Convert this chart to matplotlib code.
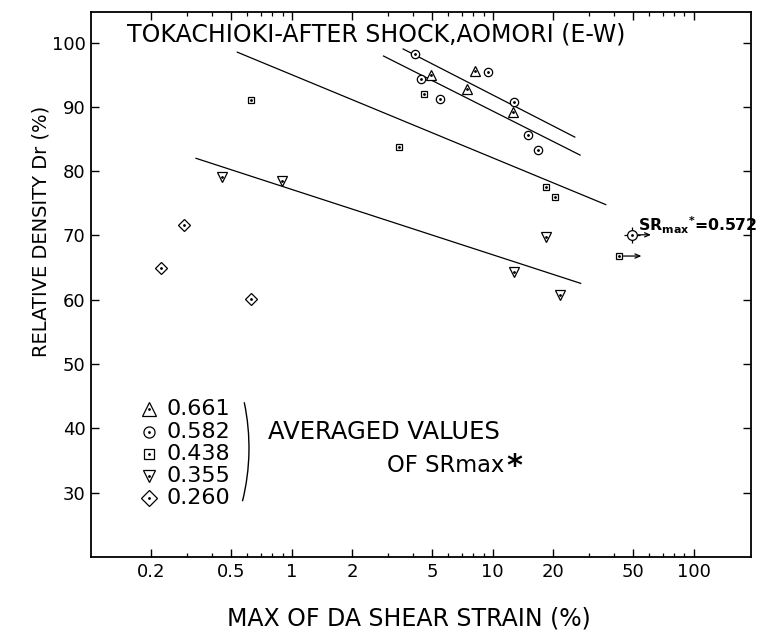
"""Dr vs max DA shear strain, Tokachioki after-shock (Aomori, E-W)."""
import matplotlib
matplotlib.use("Agg")
import matplotlib.pyplot as plt  # noqa: E402
from matplotlib.patches import Arc  # noqa: E402
from matplotlib.ticker import FixedLocator, FixedFormatter, NullFormatter  # noqa: E402

# ---------------------------------------------------------------- data
# one series per averaged SRmax* group
TRI_UP_X = [4.94, 8.12, 7.46, 12.65]          # 0.661
TRI_UP_Y = [95.0, 95.6, 92.7, 89.2]
CIRCLE_X = [4.09, 9.50, 4.40, 5.45, 12.7, 15.0, 16.8]   # 0.582
CIRCLE_Y = [98.2, 95.4, 94.3, 91.2, 90.8, 85.6, 83.3]
SQUARE_X = [0.624, 4.57, 3.40, 18.5, 20.3]    # 0.438
SQUARE_Y = [91.1, 92.0, 83.8, 77.5, 76.0]
TRI_DN_X = [0.448, 0.89, 18.5, 12.8, 21.6]    # 0.355
TRI_DN_Y = [79.1, 78.4, 69.8, 64.3, 60.7]
DIAMOND_X = [0.222, 0.290, 0.629]             # 0.260
DIAMOND_Y = [65.0, 71.6, 60.05]

# points beyond the measured range (drawn with an arrow)
OVER_CIRCLE = (49.1, 70.1)    # SRmax* = 0.572
OVER_SQUARE = (42.6, 66.8)
OVER_LABEL = "0.572"

# fitted lines, endpoints, top to bottom
FIT_X0 = [3.58, 2.86, 0.535, 0.333]
FIT_Y0 = [99.0, 97.9, 98.5, 82.0]
FIT_X1 = [25.6, 27.2, 36.5, 27.4]
FIT_Y1 = [85.3, 82.5, 74.8, 62.55]

SR_LEGEND = ["0.661", "0.582", "0.438", "0.355", "0.260"]
X_TICKS = [0.2, 0.5, 1, 2, 5, 10, 20, 50, 100]
X_TICKLABELS = ["0.2", "0.5", "1", "2", "5", "10", "20", "50", "100"]
Y_TICKS = [30, 40, 50, 60, 70, 80, 90, 100]

# ---------------------------------------------------------------- styling
plt.rcParams["font.family"] = ["DejaVu Sans"]
INK = "black"
MARK = dict(ls="none", mfc="white", mec=INK, mew=0.9)
SERIES = [  # (x, y, marker, ms, legend ms)
    (TRI_UP_X, TRI_UP_Y, "^", 7.0, 9.5),
    (CIRCLE_X, CIRCLE_Y, "o", 6.0, 8.0),
    (SQUARE_X, SQUARE_Y, "s", 5.0, 7.0),
    (TRI_DN_X, TRI_DN_Y, "v", 7.5, 9.0),
    (DIAMOND_X, DIAMOND_Y, "D", 6.0, 8.0),
]

fig = plt.figure(figsize=(7.57, 6.31), dpi=100)
ax = fig.add_axes([0.1202, 0.1173, 0.8719, 0.8642])
ax.set_xscale("log")
ax.set_xlim(0.1, 193)
ax.set_ylim(20, 104.8)

for x0, y0, x1, y1 in zip(FIT_X0, FIT_Y0, FIT_X1, FIT_Y1):
    ax.plot([x0, x1], [y0, y1], color=INK, lw=0.9, zorder=2)

for xs, ys, m, ms, _ in SERIES:
    ax.plot(xs, ys, marker=m, ms=ms, zorder=3, **MARK)
    ax.plot(xs, ys, ls="none", marker=".", ms=2, color=INK, zorder=4)

# over-range points with arrows
cx, cy = OVER_CIRCLE
ax.plot([cx], [cy], ls="none", marker="+", ms=12, mew=0.9, color=INK, zorder=3)
ax.plot([cx], [cy], marker="o", ms=7, zorder=4, **MARK)
ax.plot([cx], [cy], ls="none", marker=".", ms=2, color=INK, zorder=5)
ax.annotate("", xy=(cx, cy), xytext=(14, 0), textcoords="offset points",
            arrowprops=dict(arrowstyle="<-, head_length=0.35, head_width=0.15",
                            lw=0.9, color=INK, shrinkA=0, shrinkB=5))
sx, sy = OVER_SQUARE
ax.plot([sx], [sy], marker="s", ms=5, zorder=3, **MARK)
ax.plot([sx], [sy], ls="none", marker=".", ms=2, color=INK, zorder=4)
ax.annotate("", xy=(sx, sy), xytext=(16, 0), textcoords="offset points",
            arrowprops=dict(arrowstyle="<-, head_length=0.35, head_width=0.15",
                            lw=0.9, color=INK, shrinkA=0, shrinkB=3))
ax.text(0.8288, 0.598, r"$\mathbf{SR}_{\mathbf{max}}{}^{\mathbf{*}}$=" + OVER_LABEL,
        transform=ax.transAxes, fontsize=11.3, fontweight="bold", va="baseline",
        ha="left", zorder=6)

# axes, ticks
for s in ax.spines.values():
    s.set_linewidth(1.3)
ax.xaxis.set_major_locator(FixedLocator(X_TICKS))
ax.xaxis.set_major_formatter(FixedFormatter(X_TICKLABELS))
ax.xaxis.set_minor_locator(FixedLocator(
    [m * 10.0 ** k for k in (-1, 0, 1) for m in (3, 4, 6, 7, 8, 9)]))
ax.xaxis.set_minor_formatter(NullFormatter())
ax.yaxis.set_major_locator(FixedLocator(Y_TICKS))
ax.tick_params(which="major", direction="in", length=6, width=1.0, top=True, right=True,
               labelsize=13, pad=4)
ax.tick_params(which="minor", direction="in", length=3, width=0.9, top=True, right=True)

ax.text(0.0541, 0.945, "TOKACHIOKI-AFTER SHOCK,AOMORI (E-W)", transform=ax.transAxes,
        fontsize=17, va="baseline", ha="left")
fig.text(0.5396, 0.0206, "MAX OF DA SHEAR STRAIN (%)", fontsize=17, ha="center", va="center")
fig.text(0.0542, 0.6331, "RELATIVE DENSITY Dr (%)", fontsize=14, rotation=90,
         ha="center", va="center")

# hand-drawn style legend
row0, step = 0.2709, 0.0408
for i, ((_, _, m, _, lms), lab) in enumerate(zip(SERIES, SR_LEGEND)):
    yy = row0 - i * step
    ax.plot([0.0883], [yy], marker=m, ms=lms, transform=ax.transAxes, clip_on=False, **MARK)
    ax.plot([0.0883], [yy], marker=".", ms=2, color=INK, transform=ax.transAxes)
    ax.text(0.1147, yy, lab, transform=ax.transAxes, fontsize=16, va="center", ha="left")
ax.add_patch(Arc((-0.0964, 0.2), 2 * 221.6 / 660, 2 * 221.6 / 545.3, theta1=-16.7,
                 theta2=14.3, transform=ax.transAxes, color=INK, lw=1.0))
ax.text(0.2686, 0.2283, "AVERAGED VALUES", transform=ax.transAxes, fontsize=17.5,
        va="center", ha="left")
ax.text(0.449, 0.1678, "OF SRmax", transform=ax.transAxes, fontsize=16.3,
        va="center", ha="left")
ax.text(0.6295, 0.1504, "*", transform=ax.transAxes, fontsize=22, fontweight="bold",
        va="baseline", ha="left")

fig.savefig("out.png", dpi=100, facecolor="white")
